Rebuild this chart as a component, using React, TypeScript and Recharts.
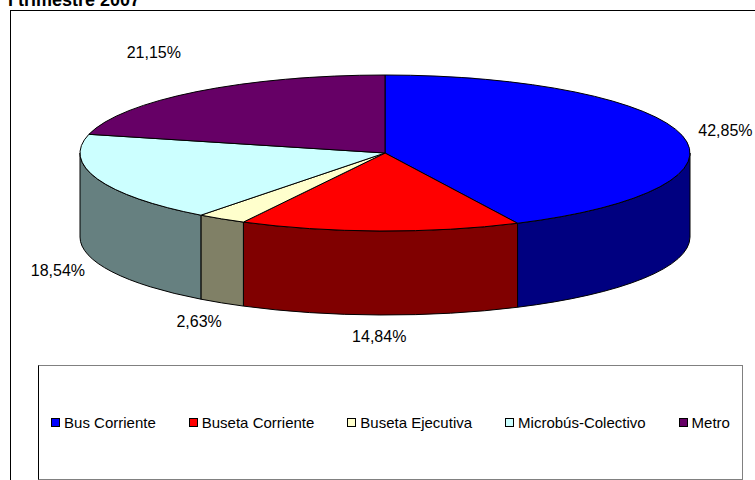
import { PieChart, Pie, Cell, Legend } from "recharts";

const title = "I trimestre 2007";
const categories = [
  "Bus Corriente",
  "Buseta Corriente",
  "Buseta Ejecutiva",
  "Microbús-Colectivo",
  "Metro",
];
const shares = [42.85, 14.84, 2.63, 18.54, 21.15];

const topColors = ["#0000FF", "#FF0000", "#FFFFCC", "#CCFFFF", "#660066"];
const sideColors = ["#000080", "#800000", "#808066", "#668080", "#330033"];

const data = categories.map((name, i) => ({ name, value: shares[i] }));

// 3D look: ellipse squash and cylinder height
const TILT = 78 / 305;
const DEPTH = 84;
const FONT = '"Liberation Sans", Arial, sans-serif';

const onEllipse = (
  cx: number,
  cy: number,
  rx: number,
  ry: number,
  deg: number,
  dy = 0
) => {
  const r = (deg * Math.PI) / 180;
  return `${cx + rx * Math.cos(r)},${cy - ry * Math.sin(r) + dy}`;
};

function TopFace(props: any) {
  const { cx, cy, outerRadius, startAngle, endAngle, fill } = props;
  const rx = outerRadius;
  const ry = outerRadius * TILT;
  const large = Math.abs(startAngle - endAngle) > 180 ? 1 : 0;
  const sweep = startAngle > endAngle ? 1 : 0;
  const d =
    `M${cx},${cy} L${onEllipse(cx, cy, rx, ry, startAngle)} ` +
    `A${rx},${ry} 0 ${large} ${sweep} ${onEllipse(cx, cy, rx, ry, endAngle)} Z`;
  return (
    <path d={d} fill={fill} stroke="#000" strokeWidth={1} strokeLinejoin="round" />
  );
}

function SideWall(props: any) {
  const { cx, cy, outerRadius, startAngle, endAngle, fill } = props;
  // only the front half of the cylinder is visible
  const hi = Math.min(Math.max(startAngle, endAngle), 0);
  const lo = Math.max(Math.min(startAngle, endAngle), -180);
  if (hi <= lo) return <g />;
  const rx = outerRadius;
  const ry = outerRadius * TILT;
  const d =
    `M${onEllipse(cx, cy, rx, ry, hi)} ` +
    `A${rx},${ry} 0 0 1 ${onEllipse(cx, cy, rx, ry, lo)} ` +
    `L${onEllipse(cx, cy, rx, ry, lo, DEPTH)} ` +
    `A${rx},${ry} 0 0 0 ${onEllipse(cx, cy, rx, ry, hi, DEPTH)} Z`;
  return (
    <path d={d} fill={fill} stroke="#000" strokeWidth={1} strokeLinejoin="round" />
  );
}

function renderLabel(props: any) {
  const { cx, cy, midAngle, outerRadius, value } = props;
  const r = (midAngle * Math.PI) / 180;
  const c = Math.cos(r);
  const s = Math.sin(r);
  // labels on the back half sit further out
  const extra = s > 0 ? 45 * s * s : 0;
  const x = cx + (outerRadius + 42 + extra) * c;
  const y = cy - (outerRadius * TILT + 22 + extra) * s + (s < 0 ? DEPTH : 0);
  return (
    <text
      x={x}
      y={y}
      textAnchor="middle"
      dominantBaseline="central"
      fontSize={16}
      fontFamily={FONT}
      fill="#000"
    >
      {Number(value).toFixed(2).replace(".", ",")}%
    </text>
  );
}

function LegendBox({ payload }: any) {
  const names = new Set((payload ?? []).map((p: any) => p.value));
  const items = categories.filter((c) => names.size === 0 || names.has(c));
  return (
    <div
      style={{
        boxSizing: "border-box",
        width: 705,
        height: 115,
        borderTop: "1px solid #808080",
        borderRight: "1px solid #808080",
        borderBottom: "1px solid #808080",
        borderLeft: "1px solid #000",
        background: "#fff",
        display: "flex",
        alignItems: "center",
        justifyContent: "center",
        gap: 33,
        fontFamily: FONT,
        fontSize: 15,
        color: "#000",
      }}
    >
      {items.map((name) => (
        <span
          key={name}
          style={{ display: "inline-flex", alignItems: "center", gap: 4 }}
        >
          <span
            style={{
              display: "inline-block",
              width: 7,
              height: 7,
              border: "1px solid #000",
              background: topColors[categories.indexOf(name)],
            }}
          />
          <span>{name}</span>
        </span>
      ))}
    </div>
  );
}

export default function App() {
  return (
    <div
      style={{
        position: "absolute",
        left: 0,
        top: 0,
        width: 755,
        height: 480,
        overflow: "hidden",
        background: "#fff",
      }}
    >
      <div
        style={{
          position: "absolute",
          left: 10,
          top: 10,
          width: 800,
          height: 600,
          border: "1px solid #000",
        }}
      />
      <div
        style={{
          position: "absolute",
          left: 8,
          top: -9,
          fontFamily: FONT,
          fontWeight: "bold",
          fontSize: 18,
          lineHeight: "18px",
          whiteSpace: "nowrap",
        }}
      >
        {title}
      </div>
      <div style={{ position: "absolute", left: 0, top: 0 }}>
        <PieChart
          width={755}
          height={480}
          margin={{ top: 0, right: 0, bottom: 0, left: 0 }}
        >
          <Pie
            data={data}
            dataKey="value"
            nameKey="name"
            cx={385}
            cy={153}
            outerRadius={305}
            startAngle={90}
            endAngle={-270}
            stroke="#000"
            legendType="none"
            label={false}
            labelLine={false}
            shape={SideWall}
            activeShape={SideWall}
            inactiveShape={SideWall}
            isAnimationActive={false}
          >
            {data.map((d, i) => (
              <Cell key={d.name} fill={sideColors[i]} />
            ))}
          </Pie>
          <Pie
            data={data}
            dataKey="value"
            nameKey="name"
            cx={385}
            cy={153}
            outerRadius={305}
            startAngle={90}
            endAngle={-270}
            stroke="#000"
            label={renderLabel}
            labelLine={false}
            shape={TopFace}
            activeShape={TopFace}
            inactiveShape={TopFace}
            isAnimationActive={false}
          >
            {data.map((d, i) => (
              <Cell key={d.name} fill={topColors[i]} />
            ))}
          </Pie>
          <Legend
            content={LegendBox}
            width={705}
            height={115}
            wrapperStyle={{ left: 38, top: 365, bottom: "auto", width: 705, height: 115 }}
          />
        </PieChart>
      </div>
    </div>
  );
}
